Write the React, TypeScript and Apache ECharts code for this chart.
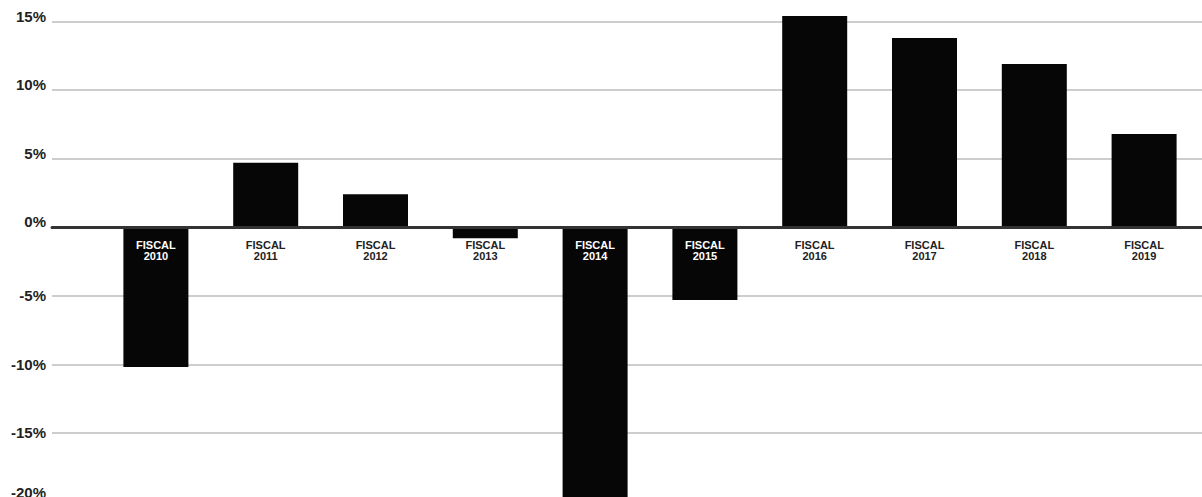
import React, { useEffect, useRef } from "react";
import * as echarts from "echarts";

const categories = ["2010", "2011", "2012", "2013", "2014", "2015", "2016", "2017", "2018", "2019"];
const growth = [-10.2, 4.7, 2.4, -0.8, -21, -5.3, 15.4, 13.8, 11.9, 6.8];
const yMin = -20;
const yMax = 15;
const yStep = 5;

const FONT = "'Liberation Sans', Arial, Helvetica, sans-serif";

export default function App() {
  const ref = useRef<HTMLDivElement>(null);

  useEffect(() => {
    if (!ref.current) return;
    const chart = echarts.init(ref.current, undefined, { renderer: "svg" });
    const top = 21.5;
    const height = 480;
    const barData = growth.map((v, i) => {
      const whiteInside = v < -1;
      return {
        value: v,
        label: {
          show: true,
          position: v < 0 ? "insideTop" : "bottom",
          distance: 12,
          formatter: "FISCAL\n" + categories[i],
          color: whiteInside ? "#ffffff" : "#222222",
          fontFamily: FONT,
          fontSize: 11,
          fontWeight: "bold",
          lineHeight: 11,
          align: "center",
        },
      };
    });
    const labelBase = {
      fontFamily: FONT,
      fontSize: 15,
      fontWeight: "bold",
      color: "#222",
      margin: 6,
    };
    const hiddenParts = {
      axisLine: { show: false },
      axisTick: { show: false },
      splitLine: { show: false },
    };
    chart.setOption({
      animation: false,
      backgroundColor: "#ffffff",
      grid: [
        { left: 101, right: 3, top, height, outerBoundsMode: "none", containLabel: false },
        { left: 52, right: 0, top, height, outerBoundsMode: "none", containLabel: false },
      ],
      xAxis: [
        {
          gridIndex: 0,
          type: "category",
          data: categories,
          axisLine: { show: false },
          axisTick: { show: false },
          axisLabel: { show: false },
          splitLine: { show: false },
        },
        {
          gridIndex: 1,
          type: "value",
          min: 0,
          max: 1,
          z: 5,
          axisLine: { show: true, onZero: true, onZeroAxisIndex: 1, lineStyle: { color: "#333", width: 3 } },
          axisTick: { show: false },
          axisLabel: { show: false },
          splitLine: { show: false },
        },
      ],
      yAxis: [
        {
          gridIndex: 0,
          type: "value",
          min: yMin,
          max: yMax,
          interval: yStep,
          show: false,
          splitLine: { show: false },
        },
        {
          gridIndex: 1,
          type: "value",
          position: "left",
          min: yMin,
          max: yMax,
          interval: yStep,
          axisLine: { show: false },
          axisTick: { show: false },
          axisLabel: {
            ...labelBase,
            formatter: (v: number) => (v >= 0 ? v + "%" : ""),
            verticalAlign: "bottom",
            lineHeight: 11,
          },
          splitLine: { show: true, lineStyle: { color: "#bdbdbd", width: 1.5 } },
        },
        {
          gridIndex: 1,
          type: "value",
          position: "left",
          offset: 0,
          min: yMin,
          max: yMax,
          interval: yStep,
          ...hiddenParts,
          axisLabel: {
            ...labelBase,
            formatter: (v: number) => (v < 0 && v !== yMin ? v + "%" : ""),
            verticalAlign: "middle",
          },
        },
        {
          gridIndex: 1,
          type: "value",
          position: "left",
          offset: 0,
          min: yMin,
          max: yMax,
          interval: yStep,
          ...hiddenParts,
          axisLabel: {
            ...labelBase,
            formatter: (v: number) => (v === yMin ? v + "%" : ""),
            verticalAlign: "bottom",
            lineHeight: 19,
          },
        },
      ],
      series: [
        {
          type: "bar",
          xAxisIndex: 0,
          yAxisIndex: 0,
          data: barData,
          barWidth: 65,
          clip: false,
          itemStyle: { color: "#060606" },
        },
      ],
    });
    return () => chart.dispose();
  }, []);

  return (
    <div
      ref={ref}
      style={{ position: "fixed", left: 0, top: 0, width: 1202, height: 497 }}
    />
  );
}
